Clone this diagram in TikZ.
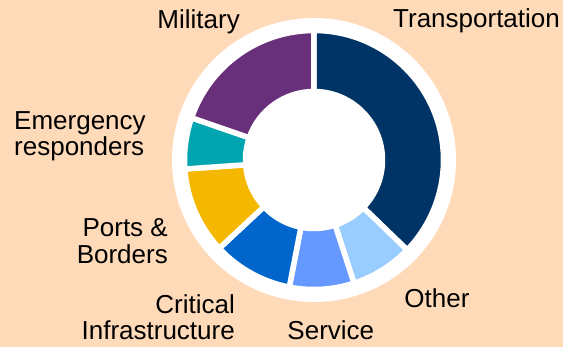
\documentclass[tikz,border=0pt]{standalone}
\usepackage{fontspec}
\setmainfont{Liberation Sans}
\definecolor{peach}{RGB}{255,218,185}
\definecolor{transport}{RGB}{0,51,102}
\definecolor{military}{RGB}{104,48,122}
\definecolor{emergency}{RGB}{0,165,176}
\definecolor{ports}{RGB}{245,184,0}
\definecolor{critical}{RGB}{0,102,204}
\definecolor{service}{RGB}{102,153,255}
\definecolor{other}{RGB}{153,204,255}
\begin{document}
\begin{tikzpicture}
[x=1pt,y=1pt,
  segDecorate/.style={draw=white,line width=5.5pt,line join=miter},%
  labelDecorate/.style={inner sep=0pt,font=\fontsize{26}{26.5}\selectfont},scale=1]
%% background and ring
\fill[peach] (-314,-187) rectangle (249,160);
\useasboundingbox (-314,-187) rectangle (249,160);
\fill[white] (0,0) circle[radius=142];
%% segments
\foreach \segname/\start/\end/\fillcolor in {
  transport/90/-44/transport, other/-44/-72/other, service/-72/-101/service,
  critical/-101/-137/critical, ports/-137/-176/ports,
  emergency/184/161/emergency, military/161/90/military}
{
  \path[segDecorate,fill=\fillcolor] (\start:129.5)
    arc[start angle=\start,end angle=\end,radius=129.5]
    -- (\end:68.5) arc[start angle=\end,end angle=\start,radius=68.5] -- cycle;
}
%% labels
\node (military) at (-74,131.5) [labelDecorate,anchor=base east] {Military};
\node (transport) at (79,132.5) [labelDecorate,anchor=base west] {Transportation};
\node (emergency) at (-300,4.3) [labelDecorate,anchor=base west,align=left]
  {Emergency\\responders};
\node (ports) at (-146,-103.3) [labelDecorate,anchor=base east,align=right]
  {Ports \&\\Borders};
\node (critical) at (-79,-180) [labelDecorate,anchor=base east,align=right]
  {Critical\\Infrastructure};
\node (service) at (-26.7,-180) [labelDecorate,anchor=base west] {Service};
\node (other) at (90.3,-147.7) [labelDecorate,anchor=base west] {Other};
\end{tikzpicture}
\end{document}
